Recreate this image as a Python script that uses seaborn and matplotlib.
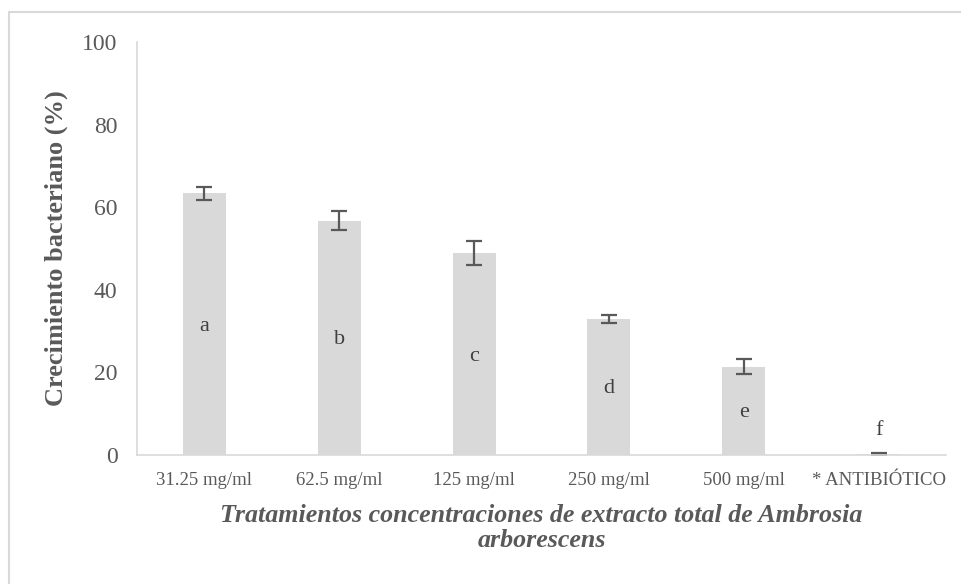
import matplotlib
matplotlib.use("Agg")
import matplotlib.pyplot as plt
import seaborn as sns
import pandas as pd
from matplotlib.lines import Line2D

categories = ["31.25 mg/ml", "62.5 mg/ml", "125 mg/ml", "250 mg/ml", "500 mg/ml", "* ANTIBIÓTICO"]
growth = [63.4, 56.7, 49.0, 32.9, 21.4, 0.2]
errors = [1.6, 2.3, 2.9, 1.0, 1.8, 0.2]
letters = ["a", "b", "c", "d", "e", "f"]
letter_y = [31.0, 28.0, 23.8, 16.2, 10.3, 6.0]
yticks = [0, 20, 40, 60, 80, 100]

sns.set_style("white")
plt.rcParams["font.family"] = ["Liberation Serif", "DejaVu Serif"]

df = pd.DataFrame({"cat": categories, "val": growth})

fig = plt.figure(figsize=(9.61, 5.84), dpi=100)
ax = fig.add_axes([137/961, 1-455/584, (946-137)/961, (455-42)/584])

sns.barplot(data=df, x="cat", y="val", color="#d9d9d9", width=0.32,
            saturation=1, errorbar=None, ax=ax, linewidth=0)
ax.errorbar(range(len(categories)), growth, yerr=errors, fmt="none",
            ecolor="#595959", elinewidth=1.6, capsize=6, capthick=1.6)

for i, (lt, ly) in enumerate(zip(letters, letter_y)):
    ax.text(i, ly, lt, ha="center", va="center", fontsize=16, color="#404040")

ax.set_ylim(0, 100)
ax.set_xlim(-0.5, len(categories) - 0.5)
ax.set_yticks(yticks)
ax.tick_params(axis="y", labelsize=17, labelcolor="#595959", length=0, pad=14)
ax.tick_params(axis="x", labelsize=13.5, labelcolor="#595959", length=0, pad=12)
for s in ["top", "right"]:
    ax.spines[s].set_visible(False)
for s in ["left", "bottom"]:
    ax.spines[s].set_color("#d9d9d9")
    ax.spines[s].set_linewidth(1.2)

ax.set_ylabel("Crecimiento bacteriano (%)", fontsize=19, fontweight="bold",
              color="#595959", labelpad=10)
ax.set_xlabel("Tratamientos concentraciones de extracto total de Ambrosia\narborescens",
              fontsize=18.7, fontweight="bold", fontstyle="italic", color="#595959",
              labelpad=11, linespacing=1.1)

fig.add_artist(Line2D([9/961, 1], [1-12/584, 1-12/584], color="#d9d9d9", lw=1.5,
                      transform=fig.transFigure))
fig.add_artist(Line2D([9/961, 9/961], [0, 1-12/584], color="#d9d9d9", lw=1.5,
                      transform=fig.transFigure))

fig.savefig("out.png", dpi=100, facecolor="white")
